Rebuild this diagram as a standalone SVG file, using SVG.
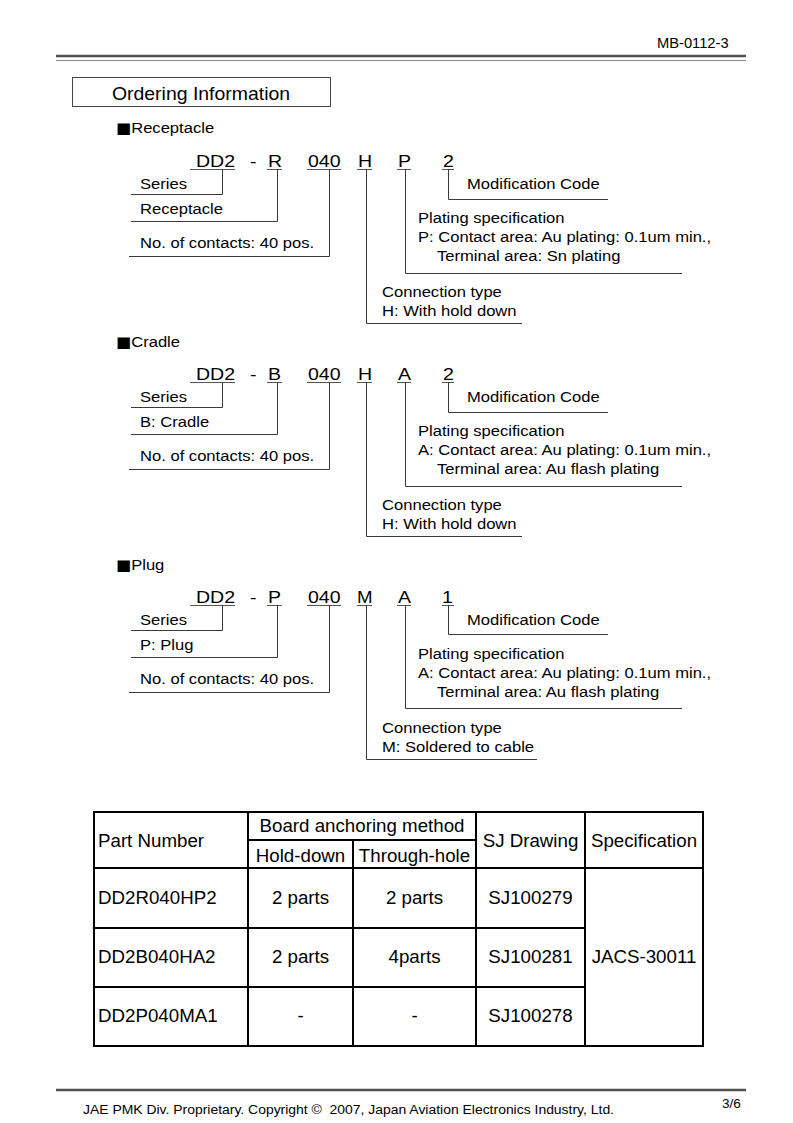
<svg xmlns="http://www.w3.org/2000/svg" width="793" height="1123" viewBox="0 0 793 1123">
<style>
text{font-family:"Liberation Sans",Arial,sans-serif;fill:#000}
.l{font-size:15.5px}
.c{font-size:17px}
.tb{font-size:17.5px}
.m{text-anchor:middle}
.sq{font-family:"DejaVu Sans",sans-serif;font-size:15px}
.ln{stroke:#3a3a3a;stroke-width:1;fill:none}
.ul{stroke:#555;stroke-width:1;fill:none}
.tl{stroke:#000;stroke-width:2;fill:none}
</style>
<rect width="793" height="1123" fill="#fff"/>
<g id="header">
<text transform="translate(657,48) scale(1.05,1)" style="font-size:14px">MB-0112-3</text>
<line x1="56" y1="56" x2="746" y2="56" stroke="#505050" stroke-width="2.5"/>
<line x1="56" y1="60.5" x2="746" y2="60.5" stroke="#8a8a8a" stroke-width="1"/>
</g>
<g id="title">
<rect x="72.5" y="77.5" width="258" height="29" fill="none" stroke="#444" stroke-width="1"/>
<text class="m" transform="translate(201,100) scale(1.08,1)" style="font-size:18px">Ordering Information</text>
</g>

<!-- Receptacle -->
<g id="receptacle">
<text class="l" transform="translate(116,133) scale(1.07,1)"><tspan class="sq">■</tspan>Receptacle</text>
<g id="rec-code">
<text class="c" transform="translate(196,167) scale(1.15,1)">DD2</text>
<text class="c" transform="translate(250,167) scale(1.15,1)">-</text>
<text class="c" transform="translate(268,167) scale(1.15,1)">R</text>
<text class="c" transform="translate(308,167) scale(1.15,1)">040</text>
<text class="c" transform="translate(358,167) scale(1.15,1)">H</text>
<text class="c" transform="translate(398,167) scale(1.15,1)">P</text>
<text class="c" transform="translate(443,167) scale(1.15,1)">2</text>
</g>
<g id="rec-labels">
<text class="l" transform="translate(140,189) scale(1.07,1)">Series</text>
<text class="l" transform="translate(140,214) scale(1.07,1)">Receptacle</text>
<text class="l" transform="translate(140,248) scale(1.07,1)">No. of contacts: 40 pos.</text>
<text class="l" transform="translate(467,189) scale(1.07,1)">Modification Code</text>
<text class="l" transform="translate(418,223) scale(1.07,1)">Plating specification</text>
<text class="l" transform="translate(418,242) scale(1.07,1)">P: Contact area: Au plating: 0.1um min.,</text>
<text class="l" transform="translate(437,261) scale(1.07,1)">Terminal area: Sn plating</text>
<text class="l" transform="translate(382,297) scale(1.07,1)">Connection type</text>
<text class="l" transform="translate(382,316) scale(1.07,1)">H: With hold down</text>
</g>
</g>

<!-- Cradle -->
<g id="cradle">
<text class="l" transform="translate(116,347) scale(1.07,1)"><tspan class="sq">■</tspan>Cradle</text>
<g id="cra-code">
<text class="c" transform="translate(196,380) scale(1.15,1)">DD2</text>
<text class="c" transform="translate(250,380) scale(1.15,1)">-</text>
<text class="c" transform="translate(268,380) scale(1.15,1)">B</text>
<text class="c" transform="translate(308,380) scale(1.15,1)">040</text>
<text class="c" transform="translate(358,380) scale(1.15,1)">H</text>
<text class="c" transform="translate(398,380) scale(1.15,1)">A</text>
<text class="c" transform="translate(443,380) scale(1.15,1)">2</text>
</g>
<g id="cra-labels">
<text class="l" transform="translate(140,402) scale(1.07,1)">Series</text>
<text class="l" transform="translate(140,427) scale(1.07,1)">B: Cradle</text>
<text class="l" transform="translate(140,461) scale(1.07,1)">No. of contacts: 40 pos.</text>
<text class="l" transform="translate(467,402) scale(1.07,1)">Modification Code</text>
<text class="l" transform="translate(418,436) scale(1.07,1)">Plating specification</text>
<text class="l" transform="translate(418,455) scale(1.07,1)">A: Contact area: Au plating: 0.1um min.,</text>
<text class="l" transform="translate(437,474) scale(1.07,1)">Terminal area: Au flash plating</text>
<text class="l" transform="translate(382,510) scale(1.07,1)">Connection type</text>
<text class="l" transform="translate(382,529) scale(1.07,1)">H: With hold down</text>
</g>
</g>

<!-- Plug -->
<g id="plug">
<text class="l" transform="translate(116,570) scale(1.07,1)"><tspan class="sq">■</tspan>Plug</text>
<g id="plug-code">
<text class="c" transform="translate(196,603) scale(1.15,1)">DD2</text>
<text class="c" transform="translate(250,603) scale(1.15,1)">-</text>
<text class="c" transform="translate(268,603) scale(1.15,1)">P</text>
<text class="c" transform="translate(308,603) scale(1.15,1)">040</text>
<text class="c" transform="translate(357,603) scale(1.1,1)">M</text>
<text class="c" transform="translate(398,603) scale(1.15,1)">A</text>
<text class="c" transform="translate(442,603) scale(1.15,1)">1</text>
</g>
<g id="plug-labels">
<text class="l" transform="translate(140,625) scale(1.07,1)">Series</text>
<text class="l" transform="translate(140,650) scale(1.07,1)">P: Plug</text>
<text class="l" transform="translate(140,684) scale(1.07,1)">No. of contacts: 40 pos.</text>
<text class="l" transform="translate(467,625) scale(1.07,1)">Modification Code</text>
<text class="l" transform="translate(418,659) scale(1.07,1)">Plating specification</text>
<text class="l" transform="translate(418,678) scale(1.07,1)">A: Contact area: Au plating: 0.1um min.,</text>
<text class="l" transform="translate(437,697) scale(1.07,1)">Terminal area: Au flash plating</text>
<text class="l" transform="translate(382,733) scale(1.07,1)">Connection type</text>
<text class="l" transform="translate(382,752) scale(1.07,1)">M: Soldered to cable</text>
</g>
</g>

<g id="connectors">
<!-- receptacle -->
<path class="ul" d="M190,169.5H235 M267,169.5H282 M307,169.5H341 M357,169.5H372 M397,169.5H411 M442,169.5H454"/>
<path class="ln" d="M222.5,169V194.5H131 M277.5,169V221.5H131 M329.5,169V256.5H129 M366.5,169V323.5H522 M405.5,169V273.5H682 M448.5,169V199.5H608"/>
<!-- cradle -->
<path class="ul" d="M190,382.5H235 M267,382.5H282 M307,382.5H341 M357,382.5H372 M397,382.5H411 M442,382.5H454"/>
<path class="ln" d="M222.5,382V407.5H131 M277.5,382V434.5H131 M329.5,382V469.5H129 M366.5,382V536.5H522 M405.5,382V486.5H682 M448.5,382V412.5H608"/>
<!-- plug -->
<path class="ul" d="M190,605.5H235 M267,605.5H282 M307,605.5H341 M357,605.5H372 M397,605.5H411 M442,605.5H454"/>
<path class="ln" d="M222.5,605V630.5H131 M277.5,605V657.5H131 M329.5,605V692.5H129 M366.5,605V759.5H537 M405.5,605V708.5H682 M448.5,605V634.5H608"/>
</g>

<g id="table">
<rect class="tl" x="94" y="812" width="609" height="234"/>
<path class="tl" d="M94,868H703 M94,928H585 M94,987H585 M248,840H476 M248,812V1046 M353,840V1046 M476,812V1046 M585,812V1046"/>
<text class="tb m" transform="translate(362,832) scale(1.07,1)">Board anchoring method</text>
<text class="tb m" transform="translate(300.5,862) scale(1.07,1)">Hold-down</text>
<text class="tb m" transform="translate(414.5,862) scale(1.07,1)">Through-hole</text>
<text class="tb" transform="translate(98,847) scale(1.07,1)">Part Number</text>
<text class="tb m" transform="translate(530.5,847) scale(1.07,1)">SJ Drawing</text>
<text class="tb m" transform="translate(644,847) scale(1.07,1)">Specification</text>
<text class="tb" transform="translate(98,904) scale(1.07,1)">DD2R040HP2</text>
<text class="tb m" transform="translate(300.5,904) scale(1.07,1)">2 parts</text>
<text class="tb m" transform="translate(414.5,904) scale(1.07,1)">2 parts</text>
<text class="tb m" transform="translate(530.5,904) scale(1.07,1)">SJ100279</text>
<text class="tb" transform="translate(98,963) scale(1.07,1)">DD2B040HA2</text>
<text class="tb m" transform="translate(300.5,963) scale(1.07,1)">2 parts</text>
<text class="tb m" transform="translate(414.5,963) scale(1.07,1)">4parts</text>
<text class="tb m" transform="translate(530.5,963) scale(1.07,1)">SJ100281</text>
<text class="tb m" transform="translate(644,963) scale(1.07,1)">JACS-30011</text>
<text class="tb" transform="translate(98,1022) scale(1.07,1)">DD2P040MA1</text>
<text class="tb m" transform="translate(300.5,1022) scale(1.07,1)">-</text>
<text class="tb m" transform="translate(414.5,1022) scale(1.07,1)">-</text>
<text class="tb m" transform="translate(530.5,1022) scale(1.07,1)">SJ100278</text>
</g>

<g id="footer">
<line x1="56" y1="1090" x2="746" y2="1090" stroke="#505050" stroke-width="2.5"/>
<text x="83" y="1114" style="font-size:12.5px;white-space:pre" textLength="531" lengthAdjust="spacingAndGlyphs">JAE PMK Div. Proprietary. Copyright ©  2007, Japan Aviation Electronics Industry, Ltd.</text>
<text x="722" y="1108" style="font-size:13.5px">3/6</text>
</g>
</svg>
